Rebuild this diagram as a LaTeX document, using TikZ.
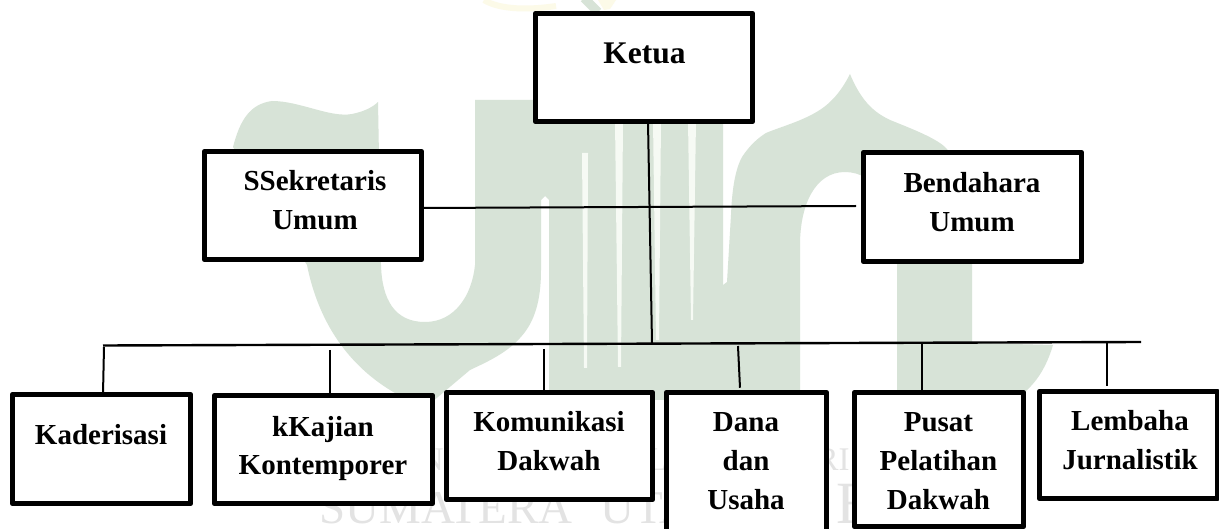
\documentclass[tikz,border=0pt]{standalone}
\usepackage{fontspec}
\setmainfont{Liberation Serif}
\definecolor{wmgreen}{HTML}{D7E3D7}
\definecolor{wmgray}{HTML}{E3E3E3}
\definecolor{wmyellow}{HTML}{FCFAE8}
\definecolor{wmgap}{HTML}{F6FAF4}
\tikzset{
  orgbox/.style={draw=black,fill=white,line width=4.8pt,line join=round,outer sep=0pt,inner sep=0pt},
  orgtext/.style={font=\bfseries\fontsize{29}{39}\selectfont,align=center,anchor=base,inner sep=0pt},
  link/.style={draw=black,line width=2pt},
  wmtext/.style={text=wmgray,inner sep=0pt,anchor=base west}
}
\begin{document}
\begin{tikzpicture}[x=1pt,y=-1pt]
\useasboundingbox (0,0) rectangle (1219,529);
\clip (0,0) rectangle (1219,529);
\fill[white] (0,0) rectangle (1219,529);
% watermark
\draw[wmyellow,line width=6pt] (484,0) .. controls (500,10) and (530,10) .. (556,6);
\draw[wmgreen,line width=9pt] (584,-2) -- (598,12);
\fill[wmyellow] (598,0) -- (616,0) -- (610,9) -- (604,10) -- cycle;
\fill[wmgreen] (233,147) .. controls (240,120) and (250,104) .. (272,101)
  .. controls (300,101) and (330,118) .. (352,114) .. controls (362,112) and (372,108) .. (378,102)
  -- (381,265) .. controls (382,300) and (395,322) .. (425,322) .. controls (455,322) and (472,295) .. (475,265)
  -- (475,100) -- (723,100) -- (723,400) -- (549,400) -- (549,200) -- (545,196) -- (541,200) -- (541,270)
  .. controls (541,300) and (535,322) .. (520,338) .. controls (505,355) and (480,365) .. (470,370)
  -- (432,402) -- (395,393) .. controls (355,370) and (320,330) .. (307,265) -- cycle;
\fill[wmgreen] (723,400) -- (723,285) -- (727,282) -- (731,215)
  .. controls (732,190) and (735,170) .. (742,157) .. controls (750,145) and (758,138) .. (766,133)
  .. controls (785,125) and (815,118) .. (832,100) .. controls (840,92) and (846,82) .. (850,74)
  .. controls (854,84) and (860,95) .. (867,103) .. controls (875,112) and (882,116) .. (890,120)
  .. controls (915,130) and (935,138) .. (945,147) .. controls (962,165) and (972,190) .. (972,215)
  -- (972,343) -- (1053,345) .. controls (1048,362) and (1040,378) .. (1027,390)
  -- (1000,420) -- (897,400) -- (897,240) .. controls (897,205) and (875,172) .. (845,172)
  .. controls (815,172) and (800,205) .. (800,245) -- (800,400) -- cycle;
\foreach \a/\b/\c/\d/\t/\e in {582/588/587/584/153/368,615/623/621/618/120/367,653/661/659/656/120/340,688/696/693/691/120/320}
  \fill[wmgap] (\a,\t) -- (\b,\t) -- (\c,\e) -- (\d,\e) -- cycle;
\node[wmtext,font=\fontsize{47}{47}\selectfont] (wmB) at (319,523) {SUMATERA};
\node[wmtext,font=\fontsize{47}{47}\selectfont] (wmD) at (600,523) {UTARA};
\node[wmtext,font=\fontsize{60}{60}\selectfont] (wmC) at (775,523) {M\kern 8pt EDAN};
\node[wmtext,font=\fontsize{33}{33}\selectfont,anchor=base east] (wmA) at (850,470) {UNIVERSITAS ISLAM NEGERI};
% boxes
\node[orgbox,minimum width=217.5pt,minimum height=108.5pt] (ketua) at (644,67.5) {};
\node[orgbox,minimum width=217.5pt,minimum height=108.5pt] (sek) at (313,205.5) {};
\node[orgbox,minimum width=218.5pt,minimum height=109.5pt] (ben) at (972.5,207) {};
\node[orgbox,minimum width=178.5pt,minimum height=109.5pt] (kad) at (101.5,449) {};
\node[orgbox,minimum width=218.5pt,minimum height=108.5pt] (kaj) at (323.5,449.5) {};
\node[orgbox,minimum width=206.5pt,minimum height=107.5pt] (kom) at (549.5,446) {};
\node[orgbox,minimum width=160.5pt,minimum height=150.5pt] (dana) at (746.5,467.5) {};
\node[orgbox,minimum width=169.5pt,minimum height=134.5pt] (pusat) at (939,459.5) {};
\node[orgbox,minimum width=178.5pt,minimum height=107.5pt] (lem) at (1128.5,445) {};
% texts
\node[orgtext,font=\bfseries\fontsize{31.5}{39}\selectfont] (tketua) at (644.5,64) {Ketua};
\node[orgtext] (tsek) at (315,230) {SSekretaris\\Umum};
\node[orgtext] (tben) at (972,232) {Bendahara\\Umum};
\node[orgtext] (tkad) at (101,445) {Kaderisasi};
\node[orgtext] (tkaj) at (323,475) {kKajian\\Kontemporer};
\node[orgtext] (tkom) at (549,470) {Komunikasi\\Dakwah};
\node[orgtext] (tdana) at (746,509) {Dana\\dan\\Usaha};
\node[orgtext] (tpusat) at (938.5,509) {Pusat\\Pelatihan\\Dakwah};
\node[orgtext] (tlem) at (1130,469) {Lembaha\\Jurnalistik};
% connectors
\coordinate (benL) at (856,206);
\coordinate (busK) at (652,343);
\coordinate (busL) at (103,345.5);
\coordinate (busR) at (1141,342);
\coordinate (dKad) at (104,347);
\coordinate (dKaj) at (330,350);
\coordinate (dKom) at (544,349);
\coordinate (dDana) at (738,346);
\coordinate (dPusat) at (922,343);
\coordinate (dLem) at (1107,343);
\draw[link] ([yshift=-2.5pt]sek.east) -- (benL);
\draw[link] ([xshift=4pt]ketua.south) -- (busK);
\draw[link,line width=2.4pt] (busL) -- (busR);
\draw[link] (dKad) -- ([xshift=1.5pt]kad.north);
\draw[link] (dKaj) -- ([xshift=6.5pt]kaj.north);
\draw[link] (dKom) -- ([xshift=-5.5pt]kom.north);
\draw[link] (dDana) -- ([xshift=-6.5pt,yshift=4.5pt]dana.north);
\draw[link] (dPusat) -- ([xshift=-17pt]pusat.north);
\draw[link] (dLem) -- ([xshift=-21.5pt,yshift=5pt]lem.north);
\end{tikzpicture}
\end{document}
